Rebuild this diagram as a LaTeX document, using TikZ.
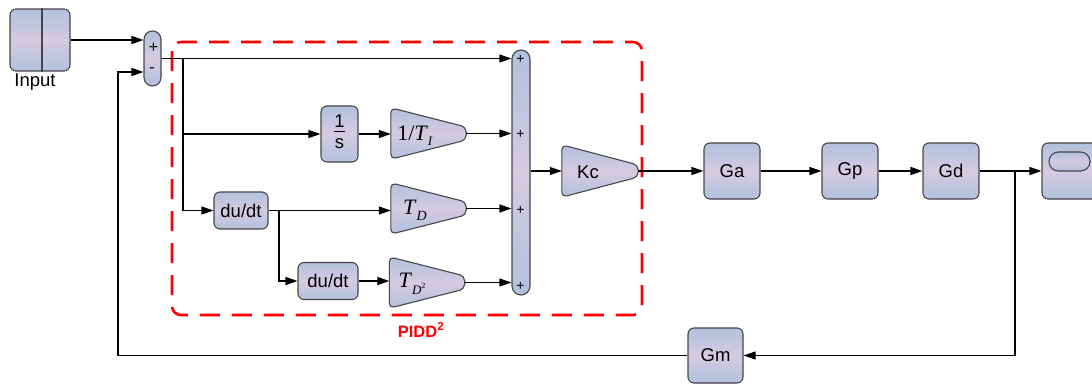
\documentclass[tikz,border=0pt]{standalone}
\usepackage{fontspec}
\setmainfont{Liberation Sans}
\newfontfamily\serfont{Liberation Serif}
\usetikzlibrary{arrows.meta}
\definecolor{bluec}{RGB}{178,193,220}
\definecolor{lavc}{RGB}{213,202,225}
\definecolor{bordc}{RGB}{70,70,70}
\definecolor{pidred}{RGB}{255,0,0}
\begin{document}
\begin{tikzpicture}[x=1pt,y=-1pt,
  grad/.style={top color=bluec, bottom color=bluec, middle color=lavc},
  blk/.style={grad, draw=bordc, line width=1.1pt, rounded corners=6pt, minimum width=56pt, minimum height=56pt, inner sep=0pt, font=\fontsize{18.5}{18.5}\selectfont},
  sumblk/.style={grad, draw=bordc, line width=1.1pt, rounded corners=8.5pt, minimum width=17pt, inner sep=0pt},
  gainanchor/.style={minimum width=75pt, minimum height=51pt, inner sep=0pt},
  gainshape/.style={grad, draw=bordc, line width=1.1pt, rounded corners=5pt},
  arr/.style={-{Triangle[length=12pt,width=8pt]}, line width=1.2pt},
  wire/.style={line width=1.2pt},
  sgn/.style={font=\fontsize{16}{16}\selectfont, inner sep=0pt},
  bsgn/.style={font=\fontsize{14}{14}\selectfont, inner sep=0pt},
  lbl/.style={font=\fontsize{18.5}{18.5}\selectfont, inner sep=0pt},
  gtxt/.style={font=\serfont\fontsize{22}{22}\selectfont, inner sep=0pt}
]
\useasboundingbox (0,0) rectangle (1092,383);
\begin{scope}
\clip (0,0) rectangle (1092,383);

% PIDD^2 dashed frame
\draw[pidred, line width=2.6pt, dash pattern=on 20pt off 12pt, rounded corners=9pt] (172,42) rectangle (642,315);
\node[font=\bfseries\fontsize{16.5}{16.5}\selectfont, text=pidred, inner sep=0pt] (pidlbl) at (421,330) {PIDD\textsuperscript{2}};

% Input block
\node[blk, minimum width=60pt, minimum height=62pt] (inp) at (40,40) {};
\draw[bordc, line width=1.1pt] ([xshift=2pt]inp.north) -- ([xshift=2pt]inp.south);
\node[lbl] (inplbl) at (35,82) {Input};

% summing junctions
\node[sumblk, minimum height=55pt] (sum1) at (152.5,58.5) {};
\node[sgn] (s1p) at (153.5,47.5) {+};
\node[sgn] (s1m) at (152,70) {-};
\node[sumblk, minimum width=18pt, minimum height=245pt, rounded corners=9pt] (bs) at (521,172.5) {};
\node[bsgn] (bsp1) at (520.5,59) {+};
\node[bsgn] (bsp2) at (520.5,134) {+};
\node[bsgn] (bsp3) at (520.5,210.5) {+};
\node[bsgn] (bsp4) at (520.5,286.5) {+};

% integrator and derivatives
\node[blk, minimum width=37pt, minimum height=56pt] (ones) at (339.5,134) {\begin{tabular}{@{}c@{}}1\\[-2pt]\hline\rule{0pt}{17pt}s\end{tabular}};
\node[blk, minimum width=54pt, minimum height=37pt] (dd1) at (241,210.5) {du/dt};
\node[blk, minimum width=60pt, minimum height=37pt] (dd2) at (328,281) {du/dt};

% gains
\node[gainanchor] (ti) at (428.5,133.5) {};
\draw[gainshape] (ti.north west) -- ([yshift=6.5pt]ti.east) -- ([yshift=-6.5pt]ti.east) -- (ti.south west) -- cycle;
\node[gtxt] (titxt) at (415,136) {1/\textit{T}\raisebox{-5pt}{\fontsize{13}{13}\selectfont\textit{I}}};

\node[gainanchor] (td) at (428.5,208.5) {};
\draw[gainshape] (td.north west) -- ([yshift=6.5pt]td.east) -- ([yshift=-6.5pt]td.east) -- (td.south west) -- cycle;
\node[gtxt] (tdtxt) at (415,210) {\textit{T}\raisebox{-6pt}{\fontsize{14}{14}\selectfont\textit{D}}};

\node[gainanchor] (tdd) at (427,282.5) {};
\draw[gainshape] (tdd.north west) -- ([yshift=6.5pt]tdd.east) -- ([yshift=-6.5pt]tdd.east) -- (tdd.south west) -- cycle;
\node[gtxt] (tddtxt) at (412,284) {\textit{T}\raisebox{-7pt}{\fontsize{13}{13}\selectfont\textit{D}\raisebox{6pt}{\fontsize{8}{8}\selectfont 2}}};

\node[gainanchor, minimum width=76pt, minimum height=52pt] (kc) at (600,171) {};
\draw[gainshape] (kc.north west) -- ([yshift=6pt]kc.east) -- ([yshift=-6pt]kc.east) -- (kc.south west) -- cycle;
\node[lbl] (kctxt) at (588,172) {Kc};

% plant chain
\node[blk] (ga) at (732,171) {Ga};
\node[blk] (gp) at (850,171) {Gp};
\node[blk] (gd) at (951,171) {Gd};
\node[blk, minimum width=55pt, minimum height=55pt] (gm) at (715.5,355.5) {Gm};
\node[blk, minimum width=62pt, minimum height=56pt] (outb) at (1073,171) {};
\node[grad, draw=bordc, line width=1.1pt, rounded corners=9.5pt, minimum width=41pt, minimum height=19pt, inner sep=0pt] (pill) at (1069.5,161.5) {};

% connectors
\coordinate (b1) at (183,58.5);
\coordinate (b2) at (279,210.5);
\coordinate (br) at (1015,171);
\coordinate (fbc) at (118,72);

\draw[arr] (inp.east) -- (inp.east -| sum1.west);
\draw[arr] (sum1.east) -- (sum1.east -| bs.west);
\draw[arr] (b1) |- (dd1.west);
\draw[arr] (b1 |- ones.west) -- (ones.west);
\draw[arr] (ones.east) -- (ones.east -| ti.west);
\draw[arr] (ti.east) -- (ti.east -| bs.west);
\draw[arr] (dd1.east) -- (dd1.east -| td.west);
\draw[arr] (b2) |- (dd2.west);
\draw[arr] (dd2.east) -- (dd2.east -| tdd.west);
\draw[arr] (td.east) -- (td.east -| bs.west);
\draw[arr] (tdd.east) -- (tdd.east -| bs.west);
\draw[arr] (bs.east |- kc.west) -- (kc.west);
\draw[arr] (kc.east) -- (ga.west);
\draw[arr] (ga.east) -- (gp.west);
\draw[arr] (gp.east) -- (gd.west);
\draw[arr] (gd.east) -- (outb.west);
\draw[arr] (br) |- (gm.east);
\draw[arr] (gm.west) -| (fbc) -- (fbc -| sum1.west);
\end{scope}
\end{tikzpicture}
\end{document}
